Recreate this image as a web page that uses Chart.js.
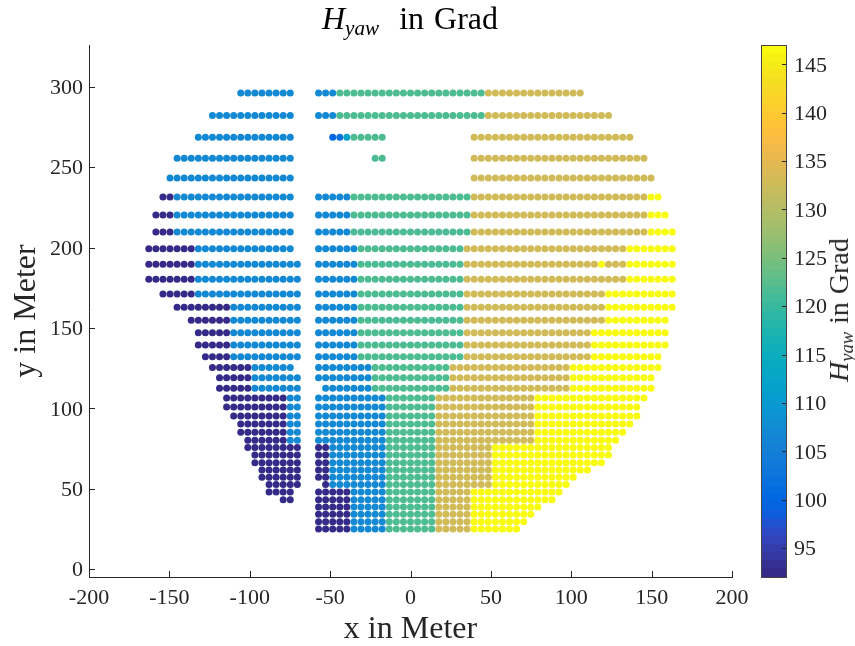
<!DOCTYPE html>
<html>
<head>
<meta charset="utf-8">
<title>H_yaw in Grad</title>
<script src="https://cdn.jsdelivr.net/npm/chart.js@4"></script>
<style>
  html, body { margin: 0; padding: 0; background: #fff; }
  body { position: relative; width: 855px; height: 646px; overflow: hidden; font-family: "Liberation Serif", serif; color: #262626; }
  canvas { position: absolute; top: 0; }
  #main-chart { left: 0; }
  #colorbar { left: 750px; }
  .label { position: absolute; white-space: nowrap; line-height: 1; }
  .label i { font-style: italic; }
  .label sub { font-size: 0.66em; line-height: 0; vertical-align: -0.28em; }
  #plot-title { left: 410px; top: 2px; font-size: 32px; color: #000; transform: translateX(-50%); word-spacing: 2px; }
  #cb-title { left: 839px; top: 310px; font-size: 28px; transform: translate(-50%, -50%) rotate(-90deg); word-spacing: 1px; }
</style>
</head>
<body>
<canvas id="main-chart" width="855" height="646"></canvas>
<canvas id="colorbar" width="105" height="646"></canvas>
<div class="label" id="plot-title"><i>H<sub>yaw</sub></i>&nbsp; in Grad</div>
<div class="label" id="cb-title"><i>H<sub>yaw</sub></i> in Grad</div>

<script>
// Headings
const P = 92.5, B = 107, G = 121.6, T = 132.8, Y = 147;

const xTicks = [-200, -150, -100, -50, 0, 50, 100, 150, 200];
const yTicks = [0, 50, 100, 150, 200, 250, 300];
const cbTicks = [95, 100, 105, 110, 115, 120, 125, 130, 135, 140, 145];

// Grid columns in meter, a run below uses -37..37 as column number
const xGrid = [
  -162.8, -158.4, -154, -149.6, -145.2, -140.8, -136.4, -132, -127.6, -123.2,
  -118.8, -114.4, -110, -105.6, -101.2, -96.8, -92.4, -88, -83.6, -79.2,
  -74.8, -70.4, -66, -61.6, -57.2, -52.8, -48.4, -44, -39.6, -35.2,
  -30.8, -26.4, -22, -17.6, -13.2, -8.8, -4.4, 0, 4.4, 8.8,
  13.2, 17.6, 22, 26.4, 30.8, 35.2, 39.6, 44, 48.4, 52.8,
  57.2, 61.6, 66, 70.4, 74.8, 79.2, 83.6, 88, 92.4, 96.8,
  101.2, 105.6, 110, 114.4, 118.8, 123.2, 127.6, 132, 136.4, 140.8,
  145.2, 149.6, 154, 158.4, 162.8
];

const rowY = [
  296.2, 282.1, 268.6, 255.6, 243.3, 231.5, 220.3, 209.7, 199.3, 189.6,
  180.3, 171.1, 162.9, 154.8, 146.9, 139.4, 132.1, 125.3, 118.9, 112.4,
  106.4, 100.8, 95.2, 90.2, 85.1, 80.1, 75.5, 70.9, 66.1, 61.6,
  57.1, 52.5, 47.9, 43.1, 38.6, 34, 29.4, 24.9
];

// One line per row: [first column, last column, heading]
const rowRuns = [
  [[-24,-17,B],[-13,-11,B],[-10,10,G],[11,24,T]],
  [[-28,-17,B],[-13,-11,B],[-10,10,G],[11,28,T]],
  [[-30,-17,B],[-11,-11,100.5],[-10,-10,101.5],[-9,-9,112.5],[-8,-4,G],[9,31,T]],
  [[-33,-17,B],[-5,-4,G],[9,33,T]],
  [[-34,-17,B],[9,34,T]],
  [[-35,-34,P],[-33,-17,B],[-13,-9,B],[-8,8,G],[9,33,T],[34,35,Y]],
  [[-36,-34,P],[-33,-17,B],[-13,-9,B],[-8,8,G],[9,33,T],[34,36,Y]],
  [[-36,-34,P],[-33,-17,B],[-13,-9,B],[-8,8,G],[9,33,T],[34,37,Y]],
  [[-37,-31,P],[-30,-17,B],[-13,-8,B],[-7,7,G],[8,30,T],[31,37,Y]],
  [[-37,-31,P],[-30,-16,B],[-13,-8,B],[-7,7,G],[8,26,T],[27,27,Y],[28,30,T],[31,37,Y]],
  [[-37,-31,P],[-30,-16,B],[-13,-8,B],[-7,7,G],[8,30,T],[31,37,Y]],
  [[-35,-31,P],[-30,-16,B],[-13,-8,B],[-7,7,G],[8,27,T],[28,37,Y]],
  [[-33,-26,P],[-25,-16,B],[-13,-8,B],[-7,7,G],[8,27,T],[28,37,Y]],
  [[-31,-26,P],[-25,-16,B],[-13,-8,B],[-7,7,G],[8,27,T],[28,36,Y]],
  [[-30,-26,P],[-25,-16,B],[-13,-8,B],[-7,7,G],[8,25,T],[26,36,Y]],
  [[-30,-26,P],[-25,-16,B],[-13,-8,B],[-7,7,G],[8,25,T],[26,36,Y]],
  [[-29,-26,P],[-25,-16,B],[-13,-8,B],[-7,7,G],[8,25,T],[26,35,Y]],
  [[-28,-23,P],[-22,-17,B],[-13,-6,B],[-5,5,G],[6,22,T],[23,35,Y]],
  [[-27,-23,P],[-22,-16,B],[-13,-6,B],[-5,5,G],[6,22,T],[23,34,Y]],
  [[-27,-23,P],[-22,-16,B],[-12,-6,B],[-5,5,G],[6,22,T],[23,34,Y]],
  [[-26,-18,P],[-17,-16,B],[-13,-4,B],[-3,3,G],[4,17,T],[18,33,Y]],
  [[-26,-18,P],[-17,-16,B],[-13,-4,B],[-3,3,G],[4,17,T],[18,32,Y]],
  [[-25,-18,P],[-17,-16,B],[-13,-4,B],[-3,3,G],[4,17,T],[18,32,Y]],
  [[-24,-18,P],[-17,-16,B],[-13,-4,B],[-3,3,G],[4,17,T],[18,31,Y]],
  [[-24,-18,P],[-17,-16,B],[-13,-4,B],[-3,3,G],[4,17,T],[18,30,Y]],
  [[-23,-18,P],[-17,-16,B],[-13,-4,B],[-3,3,G],[4,17,T],[18,29,Y]],
  [[-23,-16,P],[-13,-12,P],[-11,-4,B],[-3,3,G],[4,11,T],[12,28,Y]],
  [[-22,-16,P],[-13,-12,P],[-11,-4,B],[-3,3,G],[4,11,T],[12,28,Y]],
  [[-22,-16,P],[-13,-12,P],[-11,-4,B],[-3,3,G],[4,11,T],[12,27,Y]],
  [[-21,-16,P],[-13,-12,P],[-11,-4,B],[-3,3,G],[4,11,T],[12,25,Y]],
  [[-21,-16,P],[-13,-12,P],[-11,-4,B],[-3,3,G],[4,11,T],[12,23,Y]],
  [[-20,-16,P],[-12,-12,P],[-11,-4,B],[-3,3,G],[4,11,T],[12,22,Y]],
  [[-20,-17,P],[-13,-9,P],[-8,-4,B],[-3,3,G],[4,8,T],[9,21,Y]],
  [[-18,-17,P],[-13,-9,P],[-8,-4,B],[-3,3,G],[4,8,T],[9,20,Y]],
  [[-13,-9,P],[-8,-4,B],[-3,3,G],[4,8,T],[9,18,Y]],
  [[-13,-9,P],[-8,-4,B],[-3,3,G],[4,8,T],[9,17,Y]],
  [[-13,-9,P],[-8,-4,B],[-3,3,G],[4,8,T],[9,16,Y]],
  [[-13,-9,P],[-8,-4,B],[-3,3,G],[4,8,T],[9,15,Y]]
];

const cbMin = 92, cbMax = 147;

// colormap of the plot, old parula with 64 steps
const parula = [
  [.2081,.1663,.5292],[.2116,.1898,.5777],[.2123,.2138,.6270],[.2081,.2386,.6771],
  [.1959,.2645,.7279],[.1707,.2919,.7792],[.1253,.3242,.8303],[.0591,.3598,.8683],
  [.0117,.3875,.8820],[.0060,.4086,.8828],[.0165,.4266,.8786],[.0329,.4430,.8720],
  [.0498,.4586,.8641],[.0629,.4737,.8554],[.0723,.4887,.8467],[.0779,.5040,.8384],
  [.0793,.5200,.8312],[.0749,.5375,.8263],[.0641,.5570,.8240],[.0488,.5772,.8228],
  [.0343,.5966,.8199],[.0265,.6137,.8135],[.0239,.6287,.8038],[.0231,.6418,.7913],
  [.0228,.6535,.7768],[.0267,.6642,.7607],[.0384,.6743,.7436],[.0590,.6838,.7254],
  [.0843,.6928,.7062],[.1133,.7015,.6859],[.1453,.7098,.6646],[.1801,.7177,.6424],
  [.2178,.7250,.6193],[.2586,.7317,.5954],[.3022,.7376,.5712],[.3482,.7424,.5473],
  [.3953,.7459,.5244],[.4420,.7481,.5033],[.4871,.7491,.4840],[.5300,.7491,.4661],
  [.5709,.7485,.4494],[.6099,.7473,.4337],[.6473,.7456,.4188],[.6834,.7435,.4044],
  [.7184,.7411,.3905],[.7525,.7384,.3768],[.7858,.7356,.3633],[.8185,.7327,.3498],
  [.8507,.7299,.3360],[.8824,.7274,.3217],[.9139,.7258,.3063],[.9450,.7261,.2886],
  [.9739,.7314,.2666],[.9938,.7455,.2403],[.9990,.7653,.2164],[.9955,.7861,.1967],
  [.9880,.8066,.1794],[.9789,.8271,.1633],[.9697,.8481,.1475],[.9626,.8705,.1309],
  [.9589,.8949,.1132],[.9598,.9218,.0948],[.9661,.9514,.0755],[.9763,.9831,.0538]
].map(c => `rgb(${c.map(v => Math.round(v * 255)).join(',')})`);

function headingColor(h) {
  const i = Math.floor((h - cbMin) / (cbMax - cbMin) * parula.length);
  return parula[Math.min(parula.length - 1, Math.max(0, i))];
}

// Expand the runs to one point per dot
const dots = [];
rowRuns.forEach((runs, r) => {
  runs.forEach(([first, last, h]) => {
    for (let col = first; col <= last; col++) {
      dots.push({ x: xGrid[col + 37], y: rowY[r], h });
    }
  });
});

Chart.defaults.font.family = "'Liberation Serif', serif";
Chart.defaults.color = '#262626';
Chart.defaults.animation = false;

const axisColor = '#262626';

// MATLAB style ticks that point into the plot
function inwardTicks(len) {
  return {
    id: 'inwardTicks',
    afterDatasetsDraw(chart) {
      const { ctx, chartArea, scales } = chart;
      ctx.save();
      ctx.strokeStyle = axisColor;
      ctx.lineWidth = 1;
      ctx.beginPath();
      Object.values(scales).forEach(scale => {
        if (!scale.options.display) return;
        scale.ticks.forEach(t => {
          const p = Math.round(scale.getPixelForValue(t.value)) + 0.5;
          if (scale.axis === 'x') {
            ctx.moveTo(p, chartArea.bottom);
            ctx.lineTo(p, chartArea.bottom - len);
          } else if (scale.position === 'left') {
            ctx.moveTo(chartArea.left, p);
            ctx.lineTo(chartArea.left + len, p);
          } else {
            ctx.moveTo(chartArea.right, p);
            ctx.lineTo(chartArea.right - len, p);
          }
        });
      });
      ctx.stroke();
      ctx.restore();
    }
  };
}

const tickFont = { size: 22 };
const noGrid = { display: false, drawTicks: false };

new Chart(document.getElementById('main-chart'), {
  type: 'scatter',
  data: {
    datasets: [{
      data: dots,
      backgroundColor: dots.map(d => headingColor(d.h)),
      borderWidth: 0,
      pointRadius: 3.5
    }]
  },
  options: {
    responsive: false,
    layout: { padding: { left: 0, right: 123, top: 45, bottom: 0 } },
    plugins: { legend: { display: false }, tooltip: { enabled: false } },
    scales: {
      x: {
        type: 'linear',
        min: -200,
        max: 200,
        afterFit: s => { s.height = 69; },
        afterBuildTicks: s => { s.ticks = xTicks.map(value => ({ value })); },
        grid: noGrid,
        border: { color: axisColor, width: 1 },
        ticks: { font: tickFont, color: axisColor, padding: 8, autoSkip: false, maxRotation: 0 },
        title: { display: true, text: 'x in Meter', font: { size: 32 }, color: axisColor, padding: { top: 0, bottom: -3 } }
      },
      y: {
        type: 'linear',
        min: -5,
        max: 326,
        afterFit: s => { s.width = 89; },
        afterBuildTicks: s => { s.ticks = yTicks.map(value => ({ value })); },
        grid: noGrid,
        border: { color: axisColor, width: 1 },
        ticks: { font: tickFont, color: axisColor, padding: 6, autoSkip: false, labelOffset: 1.5 },
        title: { display: true, text: 'y in Meter', font: { size: 32 }, color: axisColor, padding: { top: 7, bottom: 0 } }
      }
    }
  },
  plugins: [inwardTicks(6)]
});

// Colorbar, one floating bar for each colormap step
const cbStep = (cbMax - cbMin) / parula.length;

new Chart(document.getElementById('colorbar'), {
  type: 'bar',
  data: {
    labels: ['H'],
    datasets: parula.map((color, i) => ({
      data: [[cbMin + i * cbStep, cbMin + (i + 1) * cbStep]],
      backgroundColor: color,
      borderColor: color,
      borderWidth: 0,
      borderSkipped: false,
      grouped: false,
      barPercentage: 1,
      categoryPercentage: 1
    }))
  },
  options: {
    responsive: false,
    layout: { padding: { left: 11, right: 0, top: 45, bottom: 69 } },
    plugins: { legend: { display: false }, tooltip: { enabled: false } },
    scales: {
      x: { display: false },
      y: {
        position: 'right',
        min: cbMin,
        max: cbMax,
        afterFit: s => { s.width = 69; },
        afterBuildTicks: s => { s.ticks = cbTicks.map(value => ({ value })); },
        grid: noGrid,
        border: { color: axisColor, width: 1 },
        ticks: { font: tickFont, color: axisColor, padding: 8, autoSkip: false, labelOffset: 1.5 }
      }
    }
  },
  plugins: [inwardTicks(4), {
    id: 'cbFrame',
    afterDraw(chart) {
      const { ctx, chartArea: a } = chart;
      ctx.save();
      ctx.strokeStyle = '#444';
      ctx.lineWidth = 1;
      ctx.strokeRect(Math.round(a.left) + 0.5, Math.round(a.top) + 0.5, Math.round(a.right - a.left), Math.round(a.bottom - a.top));
      ctx.restore();
    }
  }]
});
</script>
</body>
</html>
